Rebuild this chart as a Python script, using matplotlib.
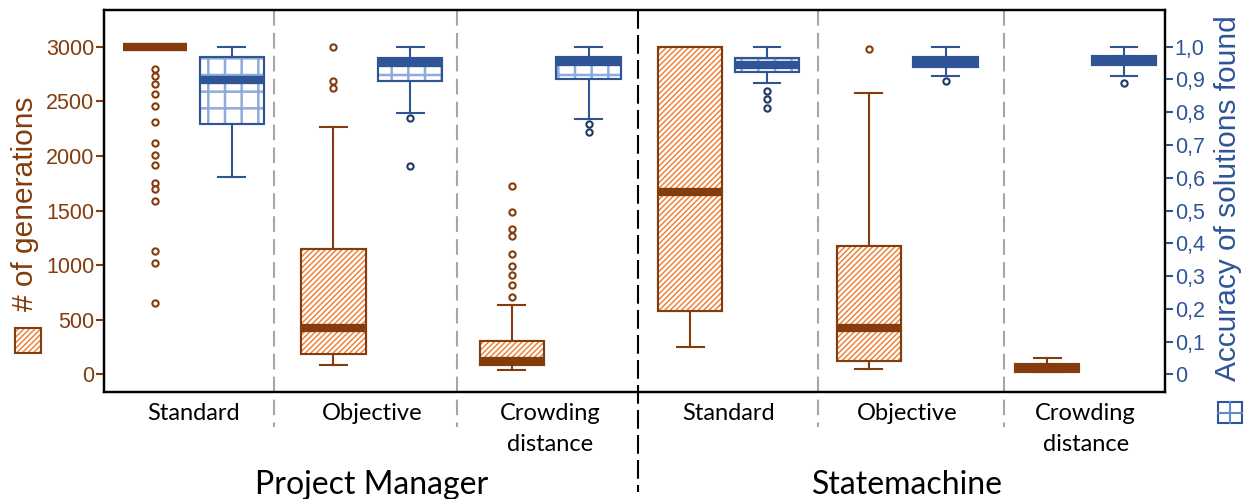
import numpy as np
import matplotlib
matplotlib.use('Agg')
import matplotlib.pyplot as plt
from matplotlib.patches import PathPatch, Rectangle
from matplotlib.lines import Line2D
from matplotlib.ticker import FuncFormatter

plt.rcParams['font.family'] = 'Liberation Sans'
plt.rcParams['hatch.linewidth'] = 1.8

categories = ['Standard', 'Objective', 'Crowding\ndistance',
              'Standard', 'Objective', 'Crowding\ndistance']
groups = ['Project Manager', 'Statemachine']

# number of generations (left axis)
gen_whislo = [3000, 89, 37, 247, 46, 21]
gen_q1 = [3000, 190, 85, 577, 119, 21]
gen_med = [3000, 424, 120, 1670, 424, 62]
gen_q3 = [3000, 1152, 302, 3000, 1173, 98]
gen_whishi = [3000, 2261, 632, 3000, 2573, 150]
gen_fliers = [[2793, 2731, 2658, 2569, 2456, 2307, 2115, 2007, 1916, 1754, 1693, 1586, 1130, 1017, 654],
              [2995, 2688, 2619],
              [1720, 1488, 1332, 1268, 1106, 996, 907, 819, 709],
              [],
              [2979],
              []]

# accuracy of solutions found (right axis)
acc_whislo = [0.603, 0.797, 0.779, 0.888, 0.911, 0.911]
acc_q1 = [0.764, 0.896, 0.900, 0.924, 0.937, 0.943]
acc_med = [0.898, 0.950, 0.952, 0.945, 0.953, 0.956]
acc_q3 = [0.968, 0.966, 0.969, 0.966, 0.969, 0.972]
acc_whishi = [1.0, 1.0, 1.0, 1.0, 1.0, 1.0]
acc_fliers = [[], [0.781, 0.636], [0.763, 0.739], [0.866, 0.840, 0.814], [0.896], [0.888]]

BROWN = '#843C0C'
ORANGE = '#ED7D31'
BLUE = '#2F5597'
DARKBLUE = '#1F3864'
LIGHTBLUE = '#8FAADC'
GRAY = '#A6A6A6'


def make_stats(lo, q1, med, q3, hi, fl):
    return [dict(whislo=a, q1=b, med=c, q3=d, whishi=e, fliers=f)
            for a, b, c, d, e, f in zip(lo, q1, med, q3, hi, fl)]


def boxplot(axis, stats, pos, face, edge, flier_edge):
    return axis.bxp(stats, positions=pos, widths=0.36, capwidths=0.15,
                    patch_artist=True,
                    boxprops=dict(facecolor=face, edgecolor=edge, linewidth=1.5),
                    medianprops=dict(color=edge, linewidth=6, solid_capstyle='butt'),
                    whiskerprops=dict(color=edge, linewidth=1.5),
                    capprops=dict(color=edge, linewidth=1.5),
                    flierprops=dict(marker='o', markersize=4.5, markerfacecolor='white',
                                    markeredgecolor=flier_edge, markeredgewidth=1.5))


def hatch_boxes(axis, boxes, hatch, hcolor, ecolor):
    # hatch on top of the fill, then redraw the outline over it
    for b in boxes:
        path = b.get_path()
        axis.add_patch(PathPatch(path, facecolor='none', edgecolor=hcolor,
                                 hatch=hatch, lw=0, zorder=2.01))
        axis.add_patch(PathPatch(path, facecolor='none', edgecolor=ecolor,
                                 lw=1.5, zorder=2.02))


fig = plt.figure(figsize=(12.49, 4.99), dpi=100)
ax = fig.add_axes([0.0833, 0.2144, 0.8495, 0.7655])
ax2 = ax.twinx()

pos = np.arange(len(categories))
off = 0.215

bp1 = boxplot(ax, make_stats(gen_whislo, gen_q1, gen_med, gen_q3, gen_whishi, gen_fliers),
              pos - off, ORANGE, BROWN, BROWN)
hatch_boxes(ax, bp1['boxes'], '//////', 'white', BROWN)

bp2 = boxplot(ax2, make_stats(acc_whislo, acc_q1, acc_med, acc_q3, acc_whishi, acc_fliers),
              pos + off, 'white', BLUE, DARKBLUE)
hatch_boxes(ax2, bp2['boxes'], '+', LIGHTBLUE, BLUE)

ax.set_xlim(-0.5, 5.445)
ax.set_ylim(-162, 3336)
ax2.set_ylim(-162 / 3000, 3336 / 3000)
ax.set_xticks([])
ax2.set_xticks([])

ax.set_yticks(range(0, 3001, 500))
ax.tick_params(axis='y', colors=BROWN, labelsize=15.5, length=6, width=1.5, pad=1)
ax2.set_yticks(np.arange(0, 1.01, 0.1))
ax2.yaxis.set_major_formatter(FuncFormatter(
    lambda v, p: '0' if abs(v) < 1e-9 else f'{v:.1f}'.replace('.', ',')))
ax2.tick_params(axis='y', colors=BLUE, labelsize=15.5, length=6, width=1.5, pad=1)

for a in (ax, ax2):
    for s in a.spines.values():
        s.set_color('black')
        s.set_linewidth(1.6)

# separators between the variants and between the two systems
tr = ax.get_xaxis_transform()
for x in [0.45, 1.48, 3.5, 4.54]:
    ax.plot([x, x], [1.0, -0.092], transform=tr, clip_on=False, color=GRAY,
            lw=1.5, linestyle=(0, (7.5, 3.5)), zorder=1)
ax.plot([2.49, 2.49], [1.0, -0.262], transform=tr, clip_on=False, color='black',
        lw=1.5, linestyle=(0, (9, 3)), zorder=1)

for i, c in enumerate(categories):
    ax.text(pos[i], -0.028, c, transform=tr, ha='center', va='top',
            fontsize=17, family='Lato', linespacing=1.6)
for i, g in enumerate(groups):
    ax.text(pos[3 * i + 1], -0.243, g, transform=tr, ha='center', va='center',
            fontsize=23, family='Lato')

# axis titles with their swatches
fig.text(0.02, 0.591, '# of generations', rotation=90, ha='center', va='center',
         fontsize=21.5, color=BROWN)
fig.text(0.983, 0.603, 'Accuracy of solutions found', rotation=90, ha='center',
         va='center', fontsize=21.5, color=BLUE)

sq = [0.012, 0.2926, 0.0205, 0.05]
fig.add_artist(Rectangle(sq[:2], sq[2], sq[3], transform=fig.transFigure,
                         facecolor=ORANGE, edgecolor='white', hatch='//////', lw=0))
fig.add_artist(Rectangle(sq[:2], sq[2], sq[3], transform=fig.transFigure,
                         facecolor='none', edgecolor=BROWN, lw=1.5))

sq2 = [0.9752, 0.152, 0.0192, 0.042]
fig.add_artist(Line2D([sq2[0] + sq2[2] / 2] * 2, [sq2[1], sq2[1] + sq2[3]],
                      transform=fig.transFigure, color='#5B8BD0', lw=1.5))
fig.add_artist(Line2D([sq2[0], sq2[0] + sq2[2]], [sq2[1] + sq2[3] / 2] * 2,
                      transform=fig.transFigure, color='#5B8BD0', lw=1.5))
fig.add_artist(Rectangle(sq2[:2], sq2[2], sq2[3], transform=fig.transFigure,
                         facecolor='none', edgecolor=BLUE, lw=1.5))

fig.savefig('out.png', dpi=100)
